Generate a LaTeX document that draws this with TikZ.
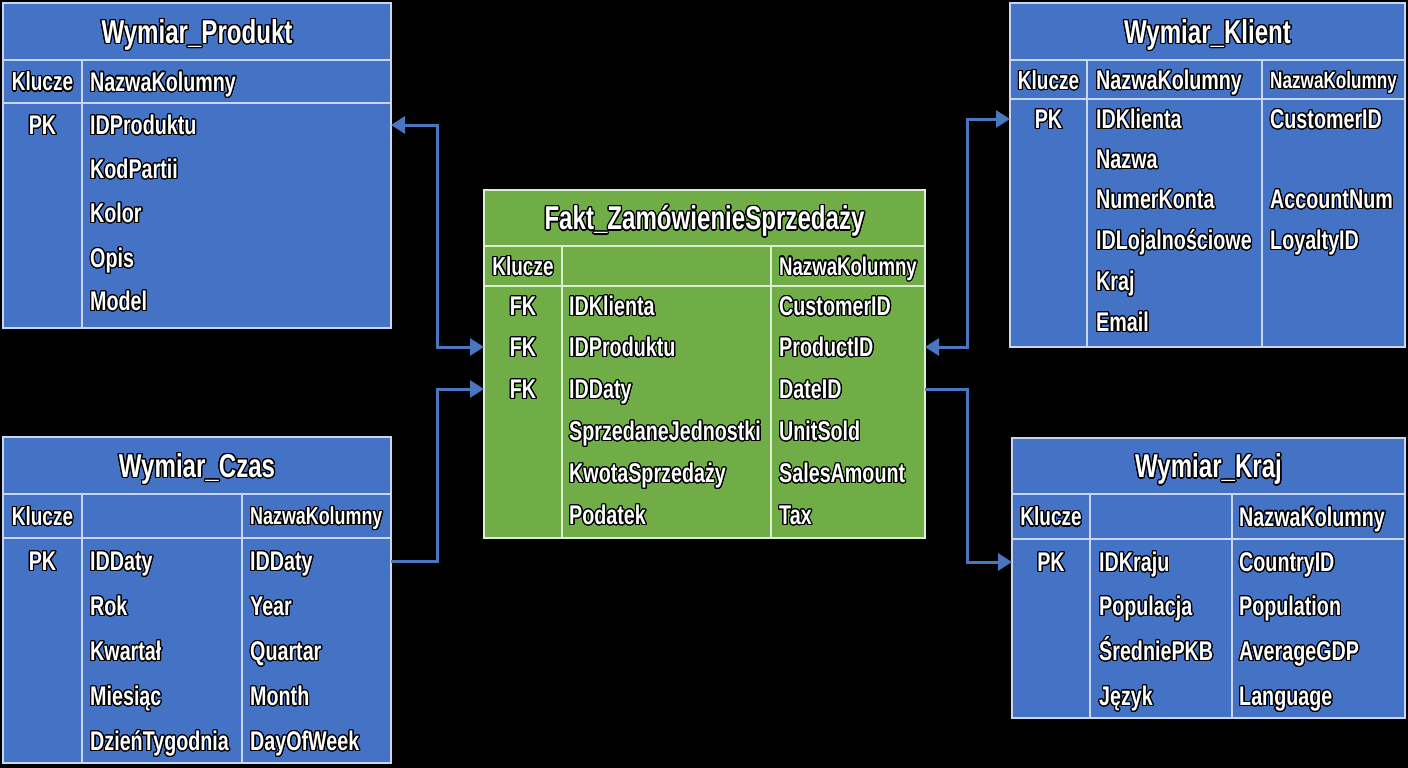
\documentclass[tikz,border=0pt]{standalone}
\usepackage{fontspec}
\setmainfont{Liberation Sans}[FakeStretch=0.73]
\usepackage[copies]{contour}
\contourlength{1.2pt}
\contournumber{24}
\usetikzlibrary{arrows.meta}
\definecolor{tblue}{HTML}{4472C4}
\definecolor{tgreen}{HTML}{70AD47}
\definecolor{bline}{HTML}{C8D6F0}
\definecolor{gline}{HTML}{DCEFD0}
\definecolor{conncol}{HTML}{4A76C0}
\newcommand{\ot}[1]{\contour{black}{#1}}
\begin{document}
\begin{tikzpicture}[x=1pt,y=-1pt,
  bluetbl/.style={draw=bline, line width=2pt, fill=tblue, inner sep=0pt, outer sep=0pt, anchor=north west},
  greentbl/.style={draw=gline, line width=2pt, fill=tgreen, inner sep=0pt, outer sep=0pt, anchor=north west},
  bgrid/.style={draw=bline, line width=2pt},
  ggrid/.style={draw=gline, line width=2pt},
  ttl/.style={text=white, inner sep=0pt, anchor=center, font=\fontsize{33}{36}\bfseries\selectfont, text height=23.6pt, text depth=0pt},
  hdrs/.style={text=white, inner sep=0pt, anchor=west, font=\fontsize{#1}{30}\bfseries\selectfont, text height=0.716*#1pt, text depth=0pt},
  hdrc/.style={hdrs=26, anchor=center},
  rowtxt/.style={text=white, inner sep=0pt, anchor=west, font=\fontsize{27}{30}\bfseries\selectfont, text height=19.3pt, text depth=0pt},
  rowc/.style={rowtxt, anchor=center},
  connector/.style={draw=conncol, line width=3pt},
  tip/.tip={Triangle[length=14pt,width=17pt]}
]
\fill[black] (0,0) rectangle (1408,768);
\useasboundingbox (0,0) rectangle (1408,768);

% ---------------- Wymiar_Produkt
\node[bluetbl, minimum width=388pt, minimum height=325pt] (prod) at (3,3) {};
\draw[bgrid] (3,60) -- (391,60);
\draw[bgrid] (3,103) -- (391,103);
\draw[bgrid] (82,60) -- (82,328);
\node[ttl] (prodT) at (197,31.5) {\ot{Wymiar\_Produkt}};
\node[hdrc] (prodH1) at (42.5,81.5) {\ot{Klucze}};
\node[hdrs=27] (prodH2) at (90,81.5) {\ot{NazwaKolumny}};
\node[rowc] (prodK1) at (42.5,125) {\ot{PK}};
\foreach \t/\yy [count=\i] in {IDProduktu/125,KodPartii/169,Kolor/213,Opis/258,Model/301}
  \node[rowtxt] (prodR\i) at (90,\yy) {\ot{\t}};

% ---------------- Wymiar_Klient
\node[bluetbl, minimum width=395pt, minimum height=344pt] (klient) at (1010,3) {};
\draw[bgrid] (1010,60) -- (1405,60);
\draw[bgrid] (1010,99) -- (1405,99);
\draw[bgrid] (1087,60) -- (1087,347);
\draw[bgrid] (1262,60) -- (1262,347);
\node[ttl] (klientT) at (1207.5,31.5) {\ot{Wymiar\_Klient}};
\node[hdrc] (klientH1) at (1048.5,80) {\ot{Klucze}};
\node[hdrs=27] (klientH2) at (1096,80) {\ot{NazwaKolumny}};
\node[hdrs=23.5] (klientH3) at (1270,80) {\ot{NazwaKolumny}};
\node[rowc] (klientK1) at (1048.5,119) {\ot{PK}};
\foreach \t/\yy [count=\i] in {IDKlienta/119,Nazwa/159,NumerKonta/199,IDLojalnościowe/240,Kraj/281,Email/322}
  \node[rowtxt] (klientR\i) at (1096,\yy) {\ot{\t}};
\foreach \t/\yy [count=\i] in {CustomerID/119,AccountNum/199,LoyaltyID/240}
  \node[rowtxt] (klientE\i) at (1270,\yy) {\ot{\t}};

% ---------------- Fakt
\node[greentbl, minimum width=441pt, minimum height=348pt] (fact) at (484,190) {};
\draw[ggrid] (484,246) -- (925,246);
\draw[ggrid] (484,286) -- (925,286);
\draw[ggrid] (562,246) -- (562,538);
\draw[ggrid] (771,246) -- (771,538);
\node[ttl] (factT) at (704.5,218) {\ot{Fakt\_ZamówienieSprzedaży}};
\node[hdrc] (factH1) at (523,266) {\ot{Klucze}};
\node[hdrs=25.5] (factH3) at (779,266) {\ot{NazwaKolumny}};
\foreach \yy [count=\i] in {306,347,389}
  \node[rowc] (factK\i) at (523,\yy) {\ot{FK}};
\foreach \t/\yy [count=\i] in {IDKlienta/306,IDProduktu/347,IDDaty/389,SprzedaneJednostki/431,KwotaSprzedaży/473,Podatek/515}
  \node[rowtxt] (factR\i) at (569,\yy) {\ot{\t}};
\foreach \t/\yy [count=\i] in {CustomerID/306,ProductID/347,DateID/389,UnitSold/431,SalesAmount/473,Tax/515}
  \node[rowtxt] (factE\i) at (779,\yy) {\ot{\t}};

% ---------------- Wymiar_Czas
\node[bluetbl, minimum width=388pt, minimum height=326pt] (czas) at (3,437) {};
\draw[bgrid] (3,494) -- (391,494);
\draw[bgrid] (3,538) -- (391,538);
\draw[bgrid] (82,494) -- (82,763);
\draw[bgrid] (242,494) -- (242,763);
\node[ttl] (czasT) at (197,465.5) {\ot{Wymiar\_Czas}};
\node[hdrc] (czasH1) at (42.5,516) {\ot{Klucze}};
\node[hdrs=24.5] (czasH3) at (250,516) {\ot{NazwaKolumny}};
\node[rowc] (czasK1) at (42.5,561) {\ot{PK}};
\foreach \t/\yy [count=\i] in {IDDaty/561,Rok/606,Kwartał/651,Miesiąc/696,DzieńTygodnia/741}
  \node[rowtxt] (czasR\i) at (90,\yy) {\ot{\t}};
\foreach \t/\yy [count=\i] in {IDDaty/561,Year/606,Quartar/651,Month/696,DayOfWeek/741}
  \node[rowtxt] (czasE\i) at (250,\yy) {\ot{\t}};

% ---------------- Wymiar_Kraj
\node[bluetbl, minimum width=393pt, minimum height=280pt] (kraj) at (1012,438) {};
\draw[bgrid] (1012,494) -- (1405,494);
\draw[bgrid] (1012,539) -- (1405,539);
\draw[bgrid] (1090,494) -- (1090,718);
\draw[bgrid] (1232,494) -- (1232,718);
\node[ttl] (krajT) at (1208.5,466) {\ot{Wymiar\_Kraj}};
\node[hdrc] (krajH1) at (1051,516.5) {\ot{Klucze}};
\node[hdrs=27] (krajH3) at (1239,516.5) {\ot{NazwaKolumny}};
\node[rowc] (krajK1) at (1051,562) {\ot{PK}};
\foreach \t/\yy [count=\i] in {IDKraju/562,Populacja/606,ŚredniePKB/651,Język/696}
  \node[rowtxt] (krajR\i) at (1099,\yy) {\ot{\t}};
\foreach \t/\yy [count=\i] in {CountryID/562,Population/606,AverageGDP/651,Language/696}
  \node[rowtxt] (krajE\i) at (1239,\yy) {\ot{\t}};

% ---------------- connectors
\coordinate (busL) at (437,0);
\coordinate (busR) at (967,0);
\draw[connector,{tip}-{tip}] (prod.east |- prodR1.west) -| (busL |- factR2.west) -- (fact.west |- factR2.west);
\draw[connector,-{tip}] (czas.east |- czasR1.west) -| (busL |- factR3.west) -- (fact.west |- factR3.west);
\draw[connector,{tip}-{tip}] (fact.east |- factE2.west) -| (busR |- klientR1.west) -- (klient.west |- klientR1.west);
\draw[connector,-{tip}] (fact.east |- factE3.west) -| (busR |- krajR1.west) -- (kraj.west |- krajR1.west);
\end{tikzpicture}
\end{document}
